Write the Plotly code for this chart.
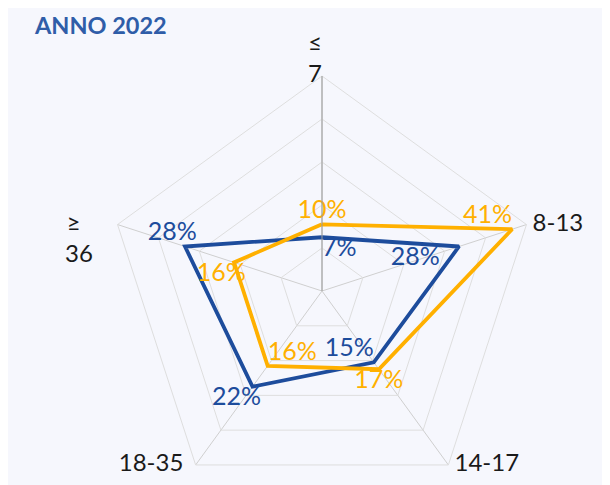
import plotly.graph_objects as go

NB = "\u00a0"
categories = ["≤ 7", "8-13", "14-17", "18-35", "≥ 36"]
tick_labels = ["≤<br>7<br>" + NB, NB + "8-13", NB + "14-17", "18-35" + NB * 2,
               NB + "<br>≥" + NB * 6 + "<br>36" + NB * 4]
tick_pos = ["middle left", "middle right", "middle right", "middle left", "middle left"]
blue_values = [7, 28, 15, 22, 28]
orange_values = [10, 41, 17, 16, 16]
blue_text = ["7%", "28%" + NB * 3, "15%", "22%" + NB * 5, "28%" + NB * 4]
orange_text = ["10%", "41%", "17%", "16%", "16%" + NB * 4]

R_MIN, R_MAX, R_STEP = -5.5, 44.5, 10

BLUE = "#1D4C9C"
ORANGE = "#FFB000"
BG = "#F6F7FD"
FONT = "Lato"

blue_pos = ["bottom right", "bottom left", "top left", "bottom center", "top center"]
orange_pos = ["top center", "top left", "bottom center", "top right", "bottom center"]

fig = go.Figure()
fig.add_trace(go.Scatterpolar(
    r=blue_values + blue_values[:1], theta=categories + categories[:1],
    mode="lines+text", text=blue_text + [""], textposition=blue_pos + ["top center"],
    line=dict(color=BLUE, width=3.8),
    textfont=dict(color=BLUE, size=25, family=FONT),
    cliponaxis=False, showlegend=False, hoverinfo="skip",
))
fig.add_trace(go.Scatterpolar(
    r=orange_values + orange_values[:1], theta=categories + categories[:1],
    mode="lines+text", text=orange_text + [""], textposition=orange_pos + ["top center"],
    line=dict(color=ORANGE, width=3.8),
    textfont=dict(color=ORANGE, size=25, family=FONT),
    cliponaxis=False, showlegend=False, hoverinfo="skip",
))
# category labels placed at the outer ring of the radial axis
fig.add_trace(go.Scatterpolar(
    r=[R_MAX] * len(categories), theta=categories,
    mode="text", text=tick_labels, textposition=tick_pos,
    textfont=dict(color="#1A1A1A", size=24, family=FONT),
    cliponaxis=False, showlegend=False, hoverinfo="skip",
))

fig.update_layout(
    width=610, height=510,
    paper_bgcolor=BG, plot_bgcolor=BG,
    margin=dict(l=99, r=81, t=68, b=12),
    font=dict(family=FONT, color="#1A1A1A"),
    title=dict(text="<b>ANNO 2022</b>", xref="container", yref="container",
               x=27/610, y=1-18/510, xanchor="left", yanchor="middle",
               font=dict(size=23.5, color="#2F5DA8", family=FONT)),
    polar=dict(
        bgcolor=BG,
        gridshape="linear",
        domain=dict(x=[0, 1], y=[0, 1]),
        radialaxis=dict(range=[R_MIN, R_MAX], tick0=R_MIN, dtick=R_STEP, showticklabels=False,
                        ticks="", showline=True, linecolor="#9A9A9A", linewidth=1,
                        gridcolor="#DEDEDE", gridwidth=1, angle=90),
        angularaxis=dict(direction="clockwise", rotation=90, type="category",
                         categoryarray=categories, showticklabels=False,
                         showline=True, linecolor="#DEDEDE", linewidth=1,
                         gridcolor="#CFCFCF", ticks=""),
    ),
)

fig.write_html("out.html")
